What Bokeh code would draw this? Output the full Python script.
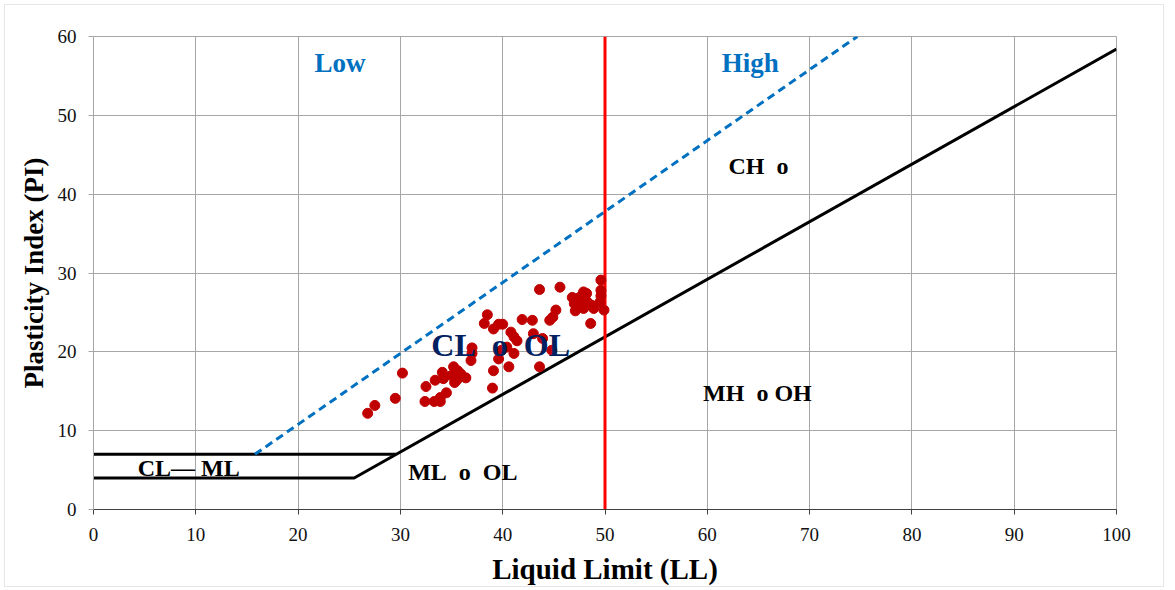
from bokeh.plotting import figure
from bokeh.embed import file_html
from bokeh.resources import INLINE
from bokeh.models import Range1d, FixedTicker, ColumnDataSource
from bokeh.core.properties import value

# Scatter data: Liquid limit (LL) and Plasticity index (PI)
ll = [26.8, 27.5, 29.5, 30.2, 32.4, 32.5, 33.3, 33.4, 33.9, 33.9, 34.1, 34.5, 34.2, 35.0,
      35.2, 35.5, 35.3, 35.9, 36.4, 35.6, 37.0, 37.0, 36.9, 38.2, 38.5, 39.1, 39.6, 40.0,
      39.0, 39.1, 39.6, 39.9, 40.4, 40.6, 41.1, 40.8, 41.1, 41.4, 41.9, 42.9, 43.0, 43.9,
      43.6, 43.6, 44.8, 44.6, 44.9, 45.2, 45.6, 46.8, 47.1, 47.0, 47.5, 47.6, 47.9, 48.2,
      47.9, 48.3, 48.7, 48.9, 48.6, 49.6, 49.6, 49.6, 49.9, 49.5]
pi = [12.2, 13.2, 14.1, 17.3, 13.7, 15.6, 13.7, 16.4, 13.7, 14.2, 17.4, 14.8, 16.6, 17.0,
      18.1, 16.4, 16.1, 17.2, 16.7, 17.6, 20.5, 19.8, 18.9, 23.6, 24.7, 22.9, 23.5, 23.5,
      15.4, 17.6, 19.1, 20.2, 20.6, 18.1, 19.8, 22.5, 21.9, 21.4, 24.1, 24.0, 22.3, 21.7,
      18.1, 27.9, 20.2, 24.0, 24.4, 25.3, 28.2, 26.9, 25.2, 26.1, 26.9, 26.1, 27.6, 27.4,
      25.5, 26.3, 25.9, 25.5, 23.6, 29.1, 27.8, 27.1, 25.3, 26.3]

# Chart lines
a_line_ll = [0, 25.48, 100]
a_line_pi = [4, 4, 58.4]
cl_ml_ll = [0, 29.59]
cl_ml_pi = [7, 7]
u_line_ll = [15.78, 74.67]
u_line_pi = [7, 60]
ll50_ll = [50, 50]
ll50_pi = [0, 60]

x_ticks = [0, 10, 20, 30, 40, 50, 60, 70, 80, 90, 100]
y_ticks = [0, 10, 20, 30, 40, 50, 60]

NB = "\u00a0"
# Zone labels
zone_text = ["CH" + NB * 2 + "o", "MH" + NB * 2 + "o" + NB + "OH",
             "ML" + NB * 2 + "o" + NB * 2 + "OL", "CL\u2014" + NB + "ML"]
zone_ll = [65.0, 64.9, 36.1, 9.3]
zone_pi = [43.6, 14.8, 4.8, 5.3]
main_text = ["CL" + NB * 2 + "o" + NB * 2 + "OL"]
main_ll = [39.8]
main_pi = [20.9]
range_text = ["Low", "High"]
range_ll = [24.1, 64.2]
range_pi = [56.6, 56.7]

FONT = "Liberation Serif"

p = figure(width=1160, height=583, output_backend="svg", toolbar_location=None,
           x_range=Range1d(0, 100), y_range=Range1d(0, 60),
           min_border_left=88, min_border_right=49, min_border_top=31, min_border_bottom=79)
p.styles = {"border": "1px solid #e6e6e6", "margin": "4px 0 0 4px"}
p.background_fill_color = "white"
p.border_fill_color = "white"
p.outline_line_color = "#a6a6a6"
p.outline_line_width = 1

for g in (p.xgrid, p.ygrid):
    g.grid_line_color = "#a6a6a6"
    g.grid_line_width = 1
p.xgrid.ticker = FixedTicker(ticks=x_ticks)
p.ygrid.ticker = FixedTicker(ticks=y_ticks)

p.xaxis.ticker = FixedTicker(ticks=x_ticks)
p.yaxis.ticker = FixedTicker(ticks=y_ticks)
p.xaxis.minor_tick_line_color = None
p.yaxis.minor_tick_line_color = None
p.xaxis.axis_line_color = "#404040"
p.xaxis.major_tick_line_color = "#404040"
p.yaxis.axis_line_color = "#a6a6a6"
p.yaxis.major_tick_line_color = "#a6a6a6"
for ax in (p.xaxis, p.yaxis):
    ax.major_tick_out = 5
    ax.major_tick_in = 0
    ax.major_label_text_font = FONT
    ax.major_label_text_font_size = "19px"
    ax.major_label_text_color = "#111111"
    ax.axis_label_text_font = FONT
    ax.axis_label_text_font_style = "bold"
    ax.axis_label_text_color = "black"
p.xaxis.axis_label_text_font_size = "29px"
p.yaxis.axis_label_text_font_size = "27px"
p.xaxis.axis_label = "Liquid Limit (LL)"
p.yaxis.axis_label = "Plasticity Index (PI)"
p.xaxis.major_label_standoff = 13
p.yaxis.major_label_standoff = 12
p.xaxis.axis_label_standoff = 9
p.yaxis.axis_label_standoff = 6

# Lines
p.line(cl_ml_ll, cl_ml_pi, line_color="black", line_width=3)
p.line(a_line_ll, a_line_pi, line_color="black", line_width=3)
p.line(u_line_ll, u_line_pi, line_color="#0070C0", line_width=3, line_dash="8 5")
p.line(ll50_ll, ll50_pi, line_color="#FF0000", line_width=3)

# Points
src = ColumnDataSource(dict(ll=ll, pi=pi))
p.scatter("ll", "pi", source=src, size=10, fill_color="#C00000", line_color="#C00000")

# Labels
p.text(zone_ll, zone_pi, text=zone_text, text_font=value(FONT), text_font_size="24px",
       text_font_style="bold", text_color="black", text_align="center", text_baseline="middle")
p.text(main_ll, main_pi, text=main_text, text_font=value(FONT), text_font_size="32px",
       text_font_style="bold", text_color="#002060", text_align="center", text_baseline="middle")
p.text(range_ll, range_pi, text=range_text, text_font=value(FONT), text_font_size="27px",
       text_font_style="bold", text_color="#0070C0", text_align="center", text_baseline="middle")

open("out.html", "w").write(file_html(p, INLINE))
